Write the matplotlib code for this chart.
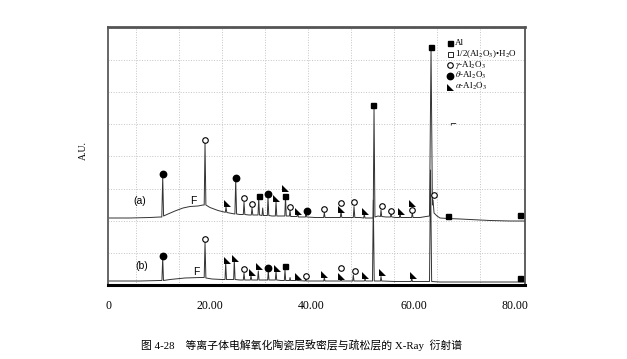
import numpy as np
import matplotlib
matplotlib.use('Agg')
import matplotlib.pyplot as plt
from matplotlib.path import Path

plt.rcParams['mathtext.fontset'] = 'stix'

# XRD patterns, 2theta (deg) vs intensity (A.U.), vertices
a_x = [0, 4.32, 8.25, 10.22,
       10.57, 10.75, 10.92,
       11.79, 13.16, 14.73, 16.11, 17.68, 18.66,
       18.90, 19.06, 19.23,
       20.04, 21.61, 22.79,
       23.05, 23.18, 23.34,
       24.36,
       24.93, 25.09, 25.26,
       25.93,
       26.58, 26.72, 26.88,
       27.70,
       28.15, 28.29, 28.45,
       29.08,
       29.47, 29.61, 29.76,
       30.26, 30.39, 30.53,
       31.04,
       31.30, 31.43, 31.59,
       32.22,
       32.87, 33.01, 33.16,
       34.18,
       34.73, 34.87, 35.02,
       35.64, 35.76, 35.89,
       36.54,
       37.13, 37.27, 37.41,
       38.11,
       38.78, 38.90, 39.04,
       40.67,
       42.36, 42.50, 42.63,
       44.20,
       45.64, 45.78, 45.93,
       47.54,
       48.19, 48.33, 48.49,
       49.51,
       50.22, 50.35, 50.49,
       51.67,
       52.10, 52.26, 52.44,
       53.05,
       53.52, 53.63, 53.77,
       54.62,
       55.48, 55.60, 55.74,
       56.58,
       57.25, 57.37, 57.50,
       58.55,
       59.65, 59.78, 59.92,
       61.30, 62.48,
       63.16, 63.46, 63.73, 63.85, 64.05, 64.64,
       65.23, 66.80, 69.16, 71.12, 75.05, 78.98, 81.92]
a_y = [67, 67, 67.5, 68,
       68, 108, 69,
       71, 74, 77, 78.5, 79, 80,
       80, 142, 80,
       77.5, 74.5, 73,
       72.7, 78, 72.5,
       71.5,
       71, 105, 71,
       70.5,
       70.5, 83, 70.5,
       70,
       70, 77, 70,
       70,
       70, 87, 70,
       69.5, 77, 69.5,
       69.5,
       69.5, 88, 69.5,
       69,
       69, 83, 69,
       69,
       69, 88.5, 69,
       69, 75, 68.5,
       68.5,
       68.5, 72.5, 68,
       68,
       68, 73, 68,
       67.5,
       67.5, 72.5, 67.5,
       67.5,
       67.5, 73.5, 67.5,
       67.5,
       67.5, 78.5, 67.5,
       67.5,
       67, 71, 67,
       67,
       67, 178, 68,
       69,
       68.5, 75, 68.5,
       68,
       68, 71.5, 68,
       67.5,
       67.5, 72, 67.5,
       67.5,
       67.5, 72.5, 67.5,
       67.5, 68.5,
       69, 236, 80, 85, 72, 69,
       67, 66.5, 66, 65.5, 64.5, 64, 64]

b_x = [0, 6.29, 10.22,
       10.59, 10.75, 10.90,
       12.18, 15.13, 18.07,
       18.90, 19.06, 19.23,
       20.43, 22.40,
       22.99, 23.12, 23.28,
       23.97,
       24.68, 24.81, 24.97,
       25.93,
       26.58, 26.72, 26.86,
       27.96, 28.09, 28.23,
       29.39, 29.53, 29.67,
       30.45,
       31.36, 31.49, 31.63,
       32.87, 33.01, 33.14,
       33.99,
       34.64, 34.77, 34.91,
       35.66, 35.76, 35.87,
       36.97, 37.07, 37.19,
       38.74, 38.84, 38.96,
       40.67,
       42.38, 42.50, 42.63,
       44.60,
       45.66, 45.78, 45.89,
       47.54,
       48.07, 48.19, 48.33,
       49.90,
       50.37, 50.49, 50.63,
       51.67,
       51.96, 52.12, 52.30,
       53.05,
       53.52, 53.63, 53.77,
       56.39,
       59.55, 59.67, 59.80,
       62.28,
       63.16, 63.36, 63.58,
       65.23, 77.01, 81.92]
b_y = [4, 4, 4.5,
       4.5, 27, 4.5,
       5.5, 7, 7.5,
       7.5, 43, 7,
       6, 5.5,
       5.5, 22, 5.5,
       5.5,
       5.5, 25, 5.5,
       5,
       5, 12, 5,
       5, 9.5, 5,
       5, 14, 5,
       5,
       5, 13.5, 5,
       5, 13.5, 5,
       4.5,
       4.5, 15, 4.5,
       4.5, 7.5, 4.5,
       4.5, 7, 4.5,
       4, 6.5, 4,
       4,
       4, 7.5, 4,
       4,
       4, 6.5, 4,
       4,
       4, 10, 4,
       4,
       4, 6.5, 4,
       4,
       4, 85, 4,
       4,
       4, 8.5, 4,
       3.5,
       3.5, 7, 3.5,
       3.5,
       3.5, 115, 3.5,
       3, 3, 3]

# phase markers (2theta, marker height)
al_a_x = [29.61, 34.77, 52.06, 63.46, 66.86, 80.94]
al_a_y = [89.3, 89, 180, 238.3, 69.3, 70]
gamma_a_x = [19.06, 26.72, 28.29, 35.76, 42.44, 45.78, 48.39, 53.77, 55.60, 59.78, 64.05]
gamma_a_y = [145, 87, 81, 78, 76, 82.3, 83.3, 79.3, 74.3, 75, 90]
theta_a_x = [10.75, 25.09, 31.43, 39.04]
theta_a_y = [111, 107, 91, 74.3]
alpha_a_x = [23.38, 33.01, 34.77, 37.27, 45.78, 50.49, 57.50, 59.78]
alpha_a_y = [82, 87, 97, 74, 75.7, 74, 74.3, 81.7]

al_b_x = [34.77, 80.94]
al_b_y = [19, 6.7]
gamma_b_x = [19.06, 26.72, 38.84, 45.78, 48.53]
gamma_b_y = [45.7, 16, 9.3, 16.7, 14]
theta_b_x = [10.75, 31.49]
theta_b_y = [29.3, 16.7]
alpha_b_x = [23.31, 24.95, 28.23, 29.61, 33.14, 37.27, 42.50, 45.78, 50.49, 53.77, 59.86]
alpha_b_y = [25, 27.3, 13.3, 19, 16.7, 9.3, 10.7, 9.3, 10, 12.7, 10]

legend_labels = ['Al', '1/2(Al$_2$O$_3$)•H$_2$O', r'$\gamma$-Al$_2$O$_3$',
                 r'$\theta$-Al$_2$O$_3$', r'$\alpha$-Al$_2$O$_3$']
xtick_vals = [0, 20, 40, 60, 80]
xtick_labels = ['0', '20.00', '40.00', '60.00', '80.00']

tri = Path([(-1, -1), (1, -1), (-1, 1), (-1, -1)],
           [Path.MOVETO, Path.LINETO, Path.LINETO, Path.CLOSEPOLY])
styles = {
    'al': dict(marker='s', ms=3.6, mfc='black', mec='black'),
    'hyd': dict(marker='s', ms=3.6, mfc='white', mec='black', mew=0.6),
    'gamma': dict(marker='o', ms=4.0, mfc='white', mec='black', mew=0.8),
    'theta': dict(marker='o', ms=4.6, mfc='black', mec='black'),
    'alpha': dict(marker=tri, ms=5.0, mfc='black', mec='black', mew=0),
}

fig = plt.figure(figsize=(6.27, 3.59), dpi=100)
ax = fig.add_axes([108/627, 1-285/359, 417/627, 258/359])

ax.plot(a_x, a_y, color='#333333', lw=0.7)
ax.plot(b_x, b_y, color='#333333', lw=0.7)

for xs, ys, key in [(al_a_x, al_a_y, 'al'), (gamma_a_x, gamma_a_y, 'gamma'),
                    (theta_a_x, theta_a_y, 'theta'), (alpha_a_x, alpha_a_y, 'alpha'),
                    (al_b_x, al_b_y, 'al'), (gamma_b_x, gamma_b_y, 'gamma'),
                    (theta_b_x, theta_b_y, 'theta'), (alpha_b_x, alpha_b_y, 'alpha')]:
    ax.plot(xs, ys, ls='none', zorder=3, **styles[key])

ax.set_xlim(0, 81.92)
ax.set_ylim(0, 258)

# dotted background grid
ax.set_xticks(np.arange(5.5, 81, 8.45), minor=True)
ax.set_yticks(np.arange(32, 258, 32.2), minor=True)
ax.grid(which='minor', color='#c4c4c4', ls=':', lw=0.7)
ax.set_xticks(xtick_vals)
ax.set_xticklabels(xtick_labels, family='Liberation Serif', fontsize=8.5)
ax.set_yticks([])
ax.tick_params(axis='x', which='both', length=0, pad=11)
ax.tick_params(axis='y', which='both', length=0)

ax.spines['top'].set_linewidth(2)
ax.spines['top'].set_color('#555555')
ax.spines['left'].set_linewidth(1.4)
ax.spines['left'].set_color('#666666')
ax.spines['bottom'].set_linewidth(2.2)
ax.spines['bottom'].set_color('black')
ax.spines['right'].set_linewidth(1.2)
ax.spines['right'].set_color('#444444')

ax.text(6.29, 84, '(a)', fontsize=7.5, family='Liberation Sans', va='center', ha='center')
ax.text(6.68, 19, '(b)', fontsize=7.5, family='Liberation Sans', va='center', ha='center')
ax.text(16.7, 84, 'F', fontsize=7.5, family='Liberation Sans', va='center', ha='center')
ax.text(17.3, 13, 'F', fontsize=7.5, family='Liberation Sans', va='center', ha='center')

# legend drawn by hand in the top right corner
for i, (key, lab) in enumerate(zip(['al', 'hyd', 'gamma', 'theta', 'alpha'], legend_labels)):
    yy = 0.938 - i * 0.0425
    ax.plot([0.821], [yy], transform=ax.transAxes, ls='none', clip_on=False, **styles[key])
    ax.text(0.831, yy, lab, transform=ax.transAxes, fontsize=6.5,
            family='Liberation Serif', va='center', ha='left')
ax.text(0.826, 0.622, '⌐', transform=ax.transAxes, fontsize=6, va='center', ha='center')

fig.text(83/627, 1-150/359, 'A.U.', rotation=90, fontsize=7,
         family='Liberation Serif', va='center', ha='center')
fig.text(302/627, 1-345/359, '图 4-28    等离子体电解氧化陶瓷层致密层与疏松层的 X-Ray  衍射谱',
         fontsize=7.8, family=['Liberation Serif', 'Noto Sans CJK SC'],
         va='center', ha='center')

fig.savefig('out.png', dpi=100)
